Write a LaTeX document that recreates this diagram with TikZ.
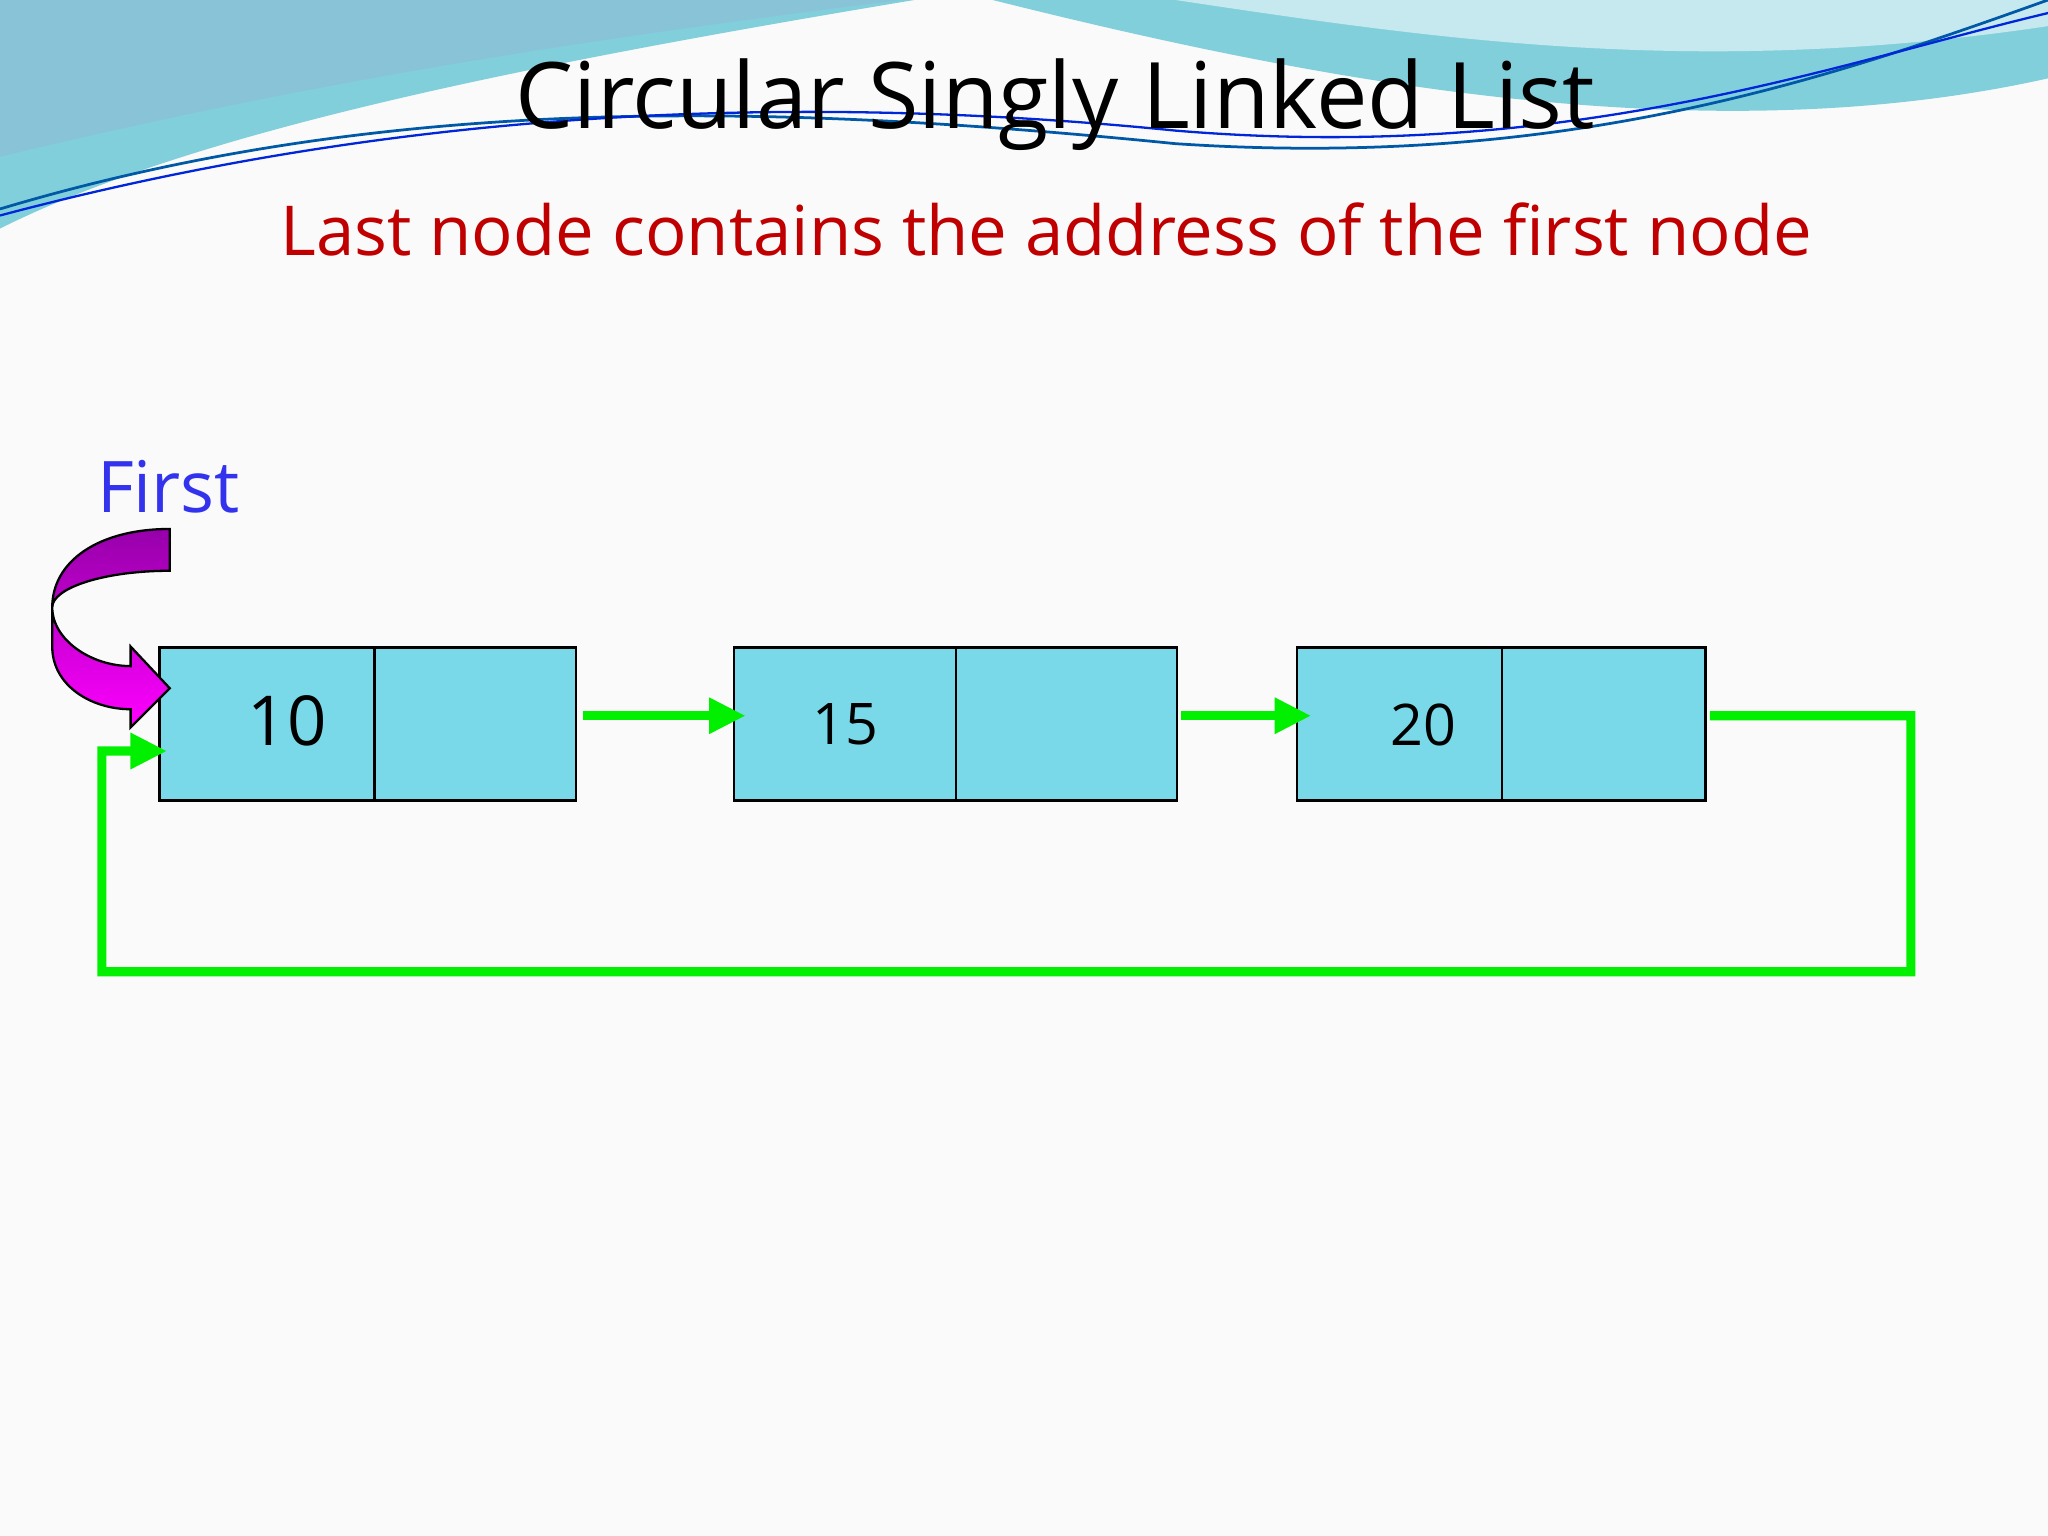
\documentclass[tikz,border=0pt]{standalone}
\usepackage{fontspec}
\setmainfont{Open Sans}
\begin{document}
\begin{tikzpicture}[x=0.01cm,y=-0.01cm,
  cell/.style={draw=black,fill=boxc,line width=0.6pt,minimum height=1.17cm,inner sep=0pt},
  link/.style={draw=lg,line width=0.07cm,-{Triangle[length=0.28cm,width=0.26cm]}}]
\usetikzlibrary{arrows.meta}
\definecolor{boxc}{RGB}{122,217,232}
\definecolor{lg}{RGB}{0,240,0}
\definecolor{teal1}{RGB}{110,200,215}
\definecolor{teal2}{RGB}{140,190,215}
\fill[white!96!gray] (0,0) rectangle (1568,1176);
\useasboundingbox (0,0) rectangle (1568,1176);
% waves
\fill[teal1,opacity=0.85] (0,0) -- (700,0) .. controls (400,50) and (150,100) .. (0,175) -- cycle;
\fill[teal2,opacity=0.7] (0,0) -- (690,0) .. controls (450,30) and (250,60) .. (0,120) -- cycle;
\fill[teal1,opacity=0.85] (760,0) -- (1568,0) -- (1568,60) .. controls (1300,120) and (1000,60) .. (760,0) -- cycle;
\fill[white!60!teal1] (900,0) -- (1568,0) -- (1568,20) .. controls (1300,60) and (1100,30) .. (900,0) -- cycle;
\draw[teal!70!blue,line width=0.6pt] (0,160) .. controls (300,70) and (600,80) .. (900,110) .. controls (1200,130) and (1400,60) .. (1568,0);
\draw[blue!70!teal,line width=0.5pt] (0,165) .. controls (300,85) and (600,70) .. (900,100) .. controls (1200,125) and (1400,50) .. (1568,10);
% texts
\node (title) at (808,80) {\fontsize{20pt}{24pt}\selectfont Circular Singly Linked List};
\node[text={rgb,255:red,192;green,0;blue,0}] (sub) at (801,176) {\fontsize{15pt}{18pt}\selectfont Last node contains the address of the first node};
\node[text={rgb,255:red,51;green,51;blue,238}] (first) at (129,373) {\fontsize{15.5pt}{18pt}\selectfont First};
% nodes
\node[cell,minimum width=1.65cm] (a1) at (204.5,554.5) {};
\node (t10) at (220,552) {\fontsize{15pt}{18pt}\selectfont 10};
\node[cell,minimum width=1.54cm] (a2) at (364,554.5) {};
\node[cell,minimum width=1.70cm] (b1) at (647,554.5) {\fontsize{12.5pt}{15pt}\selectfont 15};
\node[cell,minimum width=1.69cm] (b2) at (816.5,554.5) {};
\node[cell,minimum width=1.57cm] (c1) at (1071.5,554.5) {};
\node (t20) at (1090,555) {\fontsize{12.5pt}{15pt}\selectfont 20};
\node[cell,minimum width=1.56cm] (c2) at (1228,554.5) {};
% links
\draw[link] ([xshift=0.04cm,yshift=0.065cm]a2.east) -- ([xshift=0.1cm,yshift=0.065cm]b1.west);
\draw[link] ([xshift=0.02cm,yshift=0.065cm]b2.east) -- ([xshift=0.12cm,yshift=0.065cm]c1.west);
\coordinate (r1) at (1463,548);
\coordinate (r2) at (1463,744);
\coordinate (l1) at (78,744);
\coordinate (l2) at (78,575);
\draw[link,line join=miter] ([xshift=0.02cm,yshift=0.065cm]c2.east) -- (r1) -- (r2) -- (l1) -- (l2) -- ([xshift=0.07cm]l2 -| a1.west);
% pointer arrow
\shade[top color={rgb,255:red,150;green,0;blue,170},bottom color=magenta,draw=black,line width=0.5pt]
 (130,405) .. controls (75,405) and (40,430) .. (40,465) -- (40,495) .. controls (40,525) and (70,543) .. (100,543)
 -- (100,557) -- (130,527) -- (100,495) -- (100,510) .. controls (70,510) and (40,490) .. (40,465)
 .. controls (40,450) and (80,437) .. (130,437) -- cycle;
\end{tikzpicture}
\end{document}
